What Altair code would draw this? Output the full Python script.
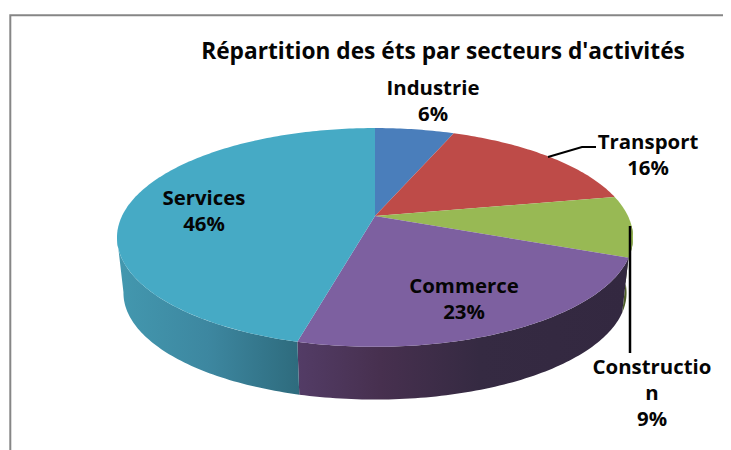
import math
import altair as alt
import pandas as pd

TITLE = "Répartition des éts par secteurs d'activités"
categories = ["Industrie", "Transport", "Construction", "Commerce", "Services"]
percents = [6, 16, 9, 23, 46]
top_colors = ["#4A7EBB", "#BE4B48", "#98B954", "#7D60A0", "#46AAC5"]
label_lines = [["Industrie", "6%"], ["Transport", "16%"], ["Constructio", "n", "9%"],
               ["Commerce", "23%"], ["Services", "46%"]]

# label anchors and leaders, in the picture's own pixel frame
label_x = [433, 648, 652, 464, 204]
label_y = [89, 143, 368, 287, 199]
label_step = 26

CX, CY, A, B, K = 375.0, 216.0, 105.2, 253.0, 0.196
WALL_SCALE, WALL_DROP = 0.975, 56.0


def project(deg, wall=False):
    t = math.radians(deg)
    u, v = math.sin(t), math.cos(t)
    den = 1 + K * v
    x, y = B * u / den, A * v / den
    if wall:
        return CX + x * WALL_SCALE, CY - y * WALL_SCALE + WALL_DROP
    return CX + x, CY - y


def arc_range(a, b):
    n = max(2, int(abs(b - a)) + 1)
    return [a + (b - a) * i / n for i in range(n + 1)]


X = alt.X("x:Q", scale=alt.Scale(domain=[8, 723], nice=False, zero=False), axis=None)
Y = alt.Y("y:Q", scale=alt.Scale(domain=[442, 8], nice=False, zero=False), axis=None)

bounds = [0.0]
for p in percents:
    bounds.append(bounds[-1] + p * 3.6)

top_rows = []
for name, a, b in zip(categories, bounds[:-1], bounds[1:]):
    pts = [(CX, CY)] + [project(d) for d in arc_range(a, b)] + [(CX, CY)]
    for i, (x, y) in enumerate(pts):
        top_rows.append({"name": name, "x": x, "y": y, "i": i})

top = alt.Chart(pd.DataFrame(top_rows)).mark_line(strokeWidth=0, interpolate="linear").encode(
    x=X, y=Y, order=alt.Order("i:Q"), detail="name:N",
    fill=alt.Fill("name:N", scale=alt.Scale(domain=categories, range=top_colors), legend=None),
)


def stops(*pairs):
    return [alt.GradientStop(offset=o, color=c) for o, c in pairs]


def wall_layer(a, b, paint):
    arcs = arc_range(a, b)
    pts = [project(d) for d in arcs] + [project(d, True) for d in reversed(arcs)]
    pts.append(pts[0])
    df = pd.DataFrame([{"x": x, "y": y, "i": i} for i, (x, y) in enumerate(pts)])
    return alt.Chart(df).mark_line(strokeWidth=0, fill=paint).encode(x=X, y=Y, order=alt.Order("i:Q"))


def gradient(*pairs):
    return alt.LinearGradient(gradient="linear", x1=0, x2=1, y1=0, y2=0, stops=stops(*pairs))


walls = [
    wall_layer(95, bounds[3], "#4E5E28"),
    wall_layer(bounds[3], bounds[4],
               gradient((0, "#533C66"), (0.25, "#47304F"), (0.55, "#352A42"), (1, "#332840"))),
    wall_layer(bounds[4], 259,
               gradient((0, "#4398AF"), (0.5, "#3D87A0"), (1, "#2E6B7D"))),
]

text_rows = []
for lines, lx, ly in zip(label_lines, label_x, label_y):
    for j, line in enumerate(lines):
        text_rows.append({"x": lx, "y": ly + j * label_step, "t": line})
labels = alt.Chart(pd.DataFrame(text_rows)).mark_text(
    font="Open Sans", fontWeight="bold", fontSize=20.4, align="center", baseline="middle", color="#050505"
).encode(x=X, y=Y, text="t:N")

title = alt.Chart(pd.DataFrame([{"x": 443, "y": 52, "t": TITLE}])).mark_text(
    font="Open Sans", fontWeight="bold", fontSize=22.7, align="center", baseline="middle", color="#050505"
).encode(x=X, y=Y, text="t:N")

leader = alt.Chart(pd.DataFrame({"x": [548, 582, 596], "y": [157, 147, 147], "i": [0, 1, 2]})).mark_line(
    color="#000000", strokeWidth=2).encode(x=X, y=Y, order=alt.Order("i:Q"))
leader2 = alt.Chart(pd.DataFrame({"x": [630, 630], "y": [226, 353], "i": [0, 1]})).mark_line(
    color="#000000", strokeWidth=2.5).encode(x=X, y=Y, order=alt.Order("i:Q"))
border = alt.Chart(pd.DataFrame({"x": [10.3, 10.3, 731], "y": [450, 15.3, 15.3], "i": [0, 1, 2]})).mark_line(
    color="#868686", strokeWidth=2, clip=False).encode(x=X, y=Y, order=alt.Order("i:Q"))

chart = alt.layer(border, *walls, top, leader, leader2, title, labels).properties(
    width=715, height=434,
    padding=alt.Padding(left=0, top=0, right=0, bottom=8),
    autosize=alt.AutoSizeParams(type="none"), background="white"
).configure_view(stroke=None)

chart.save("out.html", embed_options={"renderer": "svg", "actions": False})
